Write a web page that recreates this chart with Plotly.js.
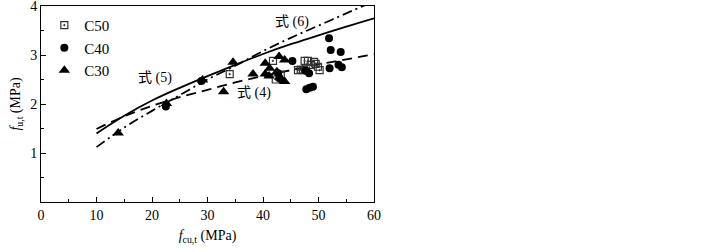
<!DOCTYPE html>
<html><head><meta charset="utf-8">
<script src="https://cdn.plot.ly/plotly-3.0.1.min.js"></script>
<style>body{margin:0;background:#fff}#c{width:722px;height:252px}</style>
</head><body><div id="c"></div>
<script>
// Data
const c50x = [34.0, 41.8, 42.3, 43.2, 46.3, 47.2, 47.5, 48.1, 48.6, 49.2, 49.9, 50.2, 46.8, 47.7, 49.5];
const c50y = [2.61, 2.88, 2.50, 2.60, 2.69, 2.69, 2.88, 2.88, 2.80, 2.86, 2.76, 2.69, 2.70, 2.72, 2.82];
const c40x = [22.5, 28.9, 42.7, 45.3, 47.7, 48.3, 47.8, 48.4, 49.0, 51.9, 52.2, 54.0, 52.0, 53.6, 54.2, 43.0];
const c40y = [1.95, 2.47, 2.63, 2.88, 2.68, 2.63, 2.30, 2.33, 2.35, 3.34, 3.10, 3.06, 2.73, 2.80, 2.75, 2.52];
const c30x = [13.9, 22.6, 29.1, 32.9, 34.6, 38.2, 40.4, 40.4, 41.2, 41.1, 42.9, 43.9, 43.0, 43.9, 42.5];
const c30y = [1.41, 2.01, 2.49, 2.25, 2.85, 2.61, 2.83, 2.61, 2.73, 2.57, 2.97, 2.90, 2.55, 2.46, 2.66];
const curveX = [10, 15, 20, 25, 30, 35, 40, 45, 50, 55, 60];
const eq5 = [1.40, 1.76, 2.07, 2.33, 2.57, 2.80, 3.02, 3.22, 3.40, 3.58, 3.75];
const eq6 = [1.12, 1.52, 1.86, 2.18, 2.50, 2.78, 3.08, 3.35, 3.60, 3.85, 4.10];
const eq4 = [1.49, 1.75, 1.96, 2.14, 2.29, 2.44, 2.57, 2.69, 2.81, 2.91, 3.02];
const labels = ['式 (5)', '式 (6)', '式 (4)'];
const labelX = [20.5, 45.2, 38.3];
const labelY = [2.53, 3.67, 2.22];

const serif = '"Liberation Serif", "Times New Roman", serif';
const traces = [
  {x: curveX, y: eq5, mode: 'lines', line: {color: '#000', width: 1.8, shape: 'spline'}, showlegend: false},
  {x: curveX, y: eq6, mode: 'lines', line: {color: '#000', width: 1.8, shape: 'spline', dash: '10px,4px,2px,4px'}, showlegend: false},
  {x: curveX, y: eq4, mode: 'lines', line: {color: '#000', width: 1.8, shape: 'spline', dash: '10px,6px'}, showlegend: false},
  {x: c50x, y: c50y, mode: 'markers', name: 'C50', marker: {symbol: 'square-open-dot', size: 7, color: '#333', line: {width: 1.2}}},
  {x: c40x, y: c40y, mode: 'markers', name: 'C40', marker: {symbol: 'circle', size: 8, color: '#000'}},
  {x: c30x, y: c30y, mode: 'markers', name: 'C30', marker: {symbol: 'triangle-up', size: 10, color: '#000'}}
];
const layout = {
  width: 722, height: 252,
  margin: {l: 41, r: 348, t: 6, b: 50},
  paper_bgcolor: '#fff', plot_bgcolor: '#fff',
  font: {family: serif, size: 14, color: '#000'},
  showlegend: true,
  legend: {x: 0.01, y: 0.985, xanchor: 'left', yanchor: 'top', bgcolor: 'rgba(0,0,0,0)',
           font: {family: serif, size: 15}, tracegroupgap: 0},
  xaxis: {range: [0, 60], dtick: 10, ticks: 'inside', ticklen: 5, tickwidth: 1, tickcolor: '#000',
          minor: {dtick: 5, ticks: 'inside', ticklen: 3, tickcolor: '#000'},
          showline: true, linecolor: '#000', linewidth: 1, mirror: true, showgrid: false, zeroline: false,
          tickfont: {family: serif, size: 14}, ticklabeloverflow: 'allow',
          title: {text: '<i>f</i><sub>cu,t</sub> (MPa)', font: {family: serif, size: 14}, standoff: 8}},
  yaxis: {range: [0, 4], ticks: 'inside', ticklen: 5, tickwidth: 1, tickcolor: '#000',
          minor: {dtick: 0.5, ticks: 'inside', ticklen: 3, tickcolor: '#000'},
          showline: true, linecolor: '#000', linewidth: 1, mirror: true, showgrid: false, zeroline: false,
          tickfont: {family: serif, size: 14}, tickmode: 'array', tickvals: [1, 2, 3, 4], ticktext: ['1', '2', '3', '4'],
          ticklabeloverflow: 'allow',
          title: {text: '<i>f</i><sub>u,t</sub> (MPa)', font: {family: serif, size: 14}, standoff: 6}},
  annotations: labels.map((t, i) => ({x: labelX[i], y: labelY[i], text: t, showarrow: false,
    font: {family: '"Liberation Serif", "Noto Sans CJK SC", serif', size: 14}, xanchor: 'center', yanchor: 'middle'}))
};
Plotly.newPlot('c', traces, layout, {displayModeBar: false, staticPlot: true});
</script></body></html>
